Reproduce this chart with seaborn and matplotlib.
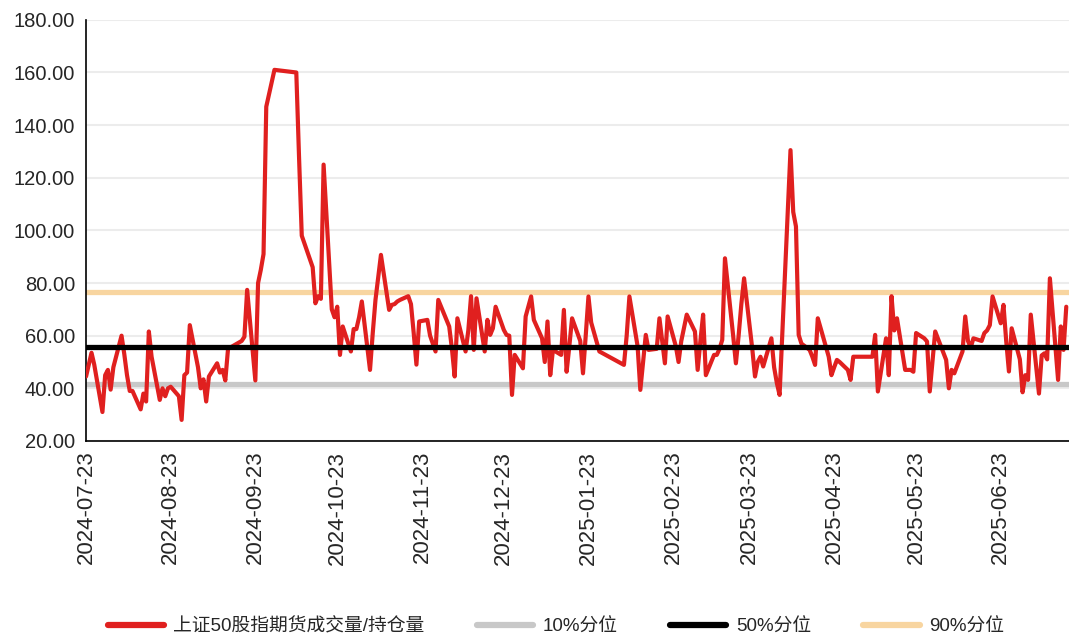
import matplotlib
matplotlib.use("Agg")
import matplotlib.pyplot as plt
from matplotlib.lines import Line2D
import seaborn as sns
import numpy as np
import pandas as pd

# SSE closed days inside the window
holidays = ["2024-09-16", "2024-09-17",
            "2024-10-01", "2024-10-02", "2024-10-03", "2024-10-04", "2024-10-07",
            "2025-01-01", "2025-01-28", "2025-01-29", "2025-01-30", "2025-01-31",
            "2025-02-03", "2025-02-04", "2025-04-04",
            "2025-05-01", "2025-05-02", "2025-05-05", "2025-06-02"]

# volume / open interest ratio, one value per trading day, month by month
vol_2024_07 = [44.5, 49, 53.5, 49, 31, 45, 47]
vol_2024_08 = [39.5, 48, 60, 53, 45, 39, 39, 32, 38, 35, 61.6, 52, 35.6, 40, 37, 40,
               40.6, 37, 28, 45, 46, 64]
vol_2024_09 = [48, 40, 43.4, 35, 44.5, 49.5, 46, 47, 43, 55, 58, 59.6, 77.4, 43, 80,
               85, 91, 147, 161]
vol_2024_10 = [160, 128, 98, 95, 86, 72.3, 75, 74, 125, 70, 67, 71, 52.7, 63.5, 54,
               62.5, 62.5, 67]
vol_2024_11 = [73, 47, 61, 73.6, 82, 90.7, 69.8, 71.7, 72, 73, 73.6, 75, 72, 61, 49,
               65.4, 66, 60, 57, 54, 73.6]
vol_2024_12 = [66, 63.5, 55, 44.5, 66.6, 54, 62, 75, 54.6, 74.2, 54, 66, 60.3, 62.8,
               71, 62.2, 60.3, 60, 37.5, 52.7, 47.6, 67.3]
vol_2025_01 = [74.9, 66, 59, 50, 65.4, 45, 54.6, 52.7, 69.8, 46.3, 56, 66.6, 58, 45.7,
               60, 74.9, 65, 54]
vol_2025_02 = [48.9, 60, 74.9, 56, 39.4, 50, 60.3, 54.6, 55, 66.6, 58, 49.5, 67.3, 56,
               50, 58, 63, 68]
vol_2025_03 = [61.6, 47, 58, 68, 45, 52.7, 52.7, 55, 58.4, 89.4, 60, 49.5, 60, 72, 81.8,
               55, 44.5, 50, 52, 48.3, 59]
vol_2025_04 = [48, 42, 37.5, 130.5, 107, 101.5, 60.3, 57, 54.6, 52, 48.9, 66.6, 63, 52,
               45, 48, 50.8, 50, 47, 43.2, 52]
vol_2025_05 = [52, 52, 60.3, 38.8, 59, 45, 75, 62, 66.6, 47, 47, 47, 46.3, 61, 59, 57.8,
               38.8, 50, 61.6]
vol_2025_06 = [50.8, 40, 47, 45.7, 54, 67.3, 58, 55.5, 59, 58, 61, 62, 64, 74.9, 64.7,
               71.7, 58, 46.4, 62.8, 51]
vol_2025_07 = [38.5, 45, 43.2, 68, 38, 52.5, 53.3, 51, 81.8, 43.2, 63.5, 54.6, 71]

# percentile reference levels
p10 = 41.8
p50 = 55.7
p90 = 76.5

series_label = "上证50股指期货成交量/持仓量"
level_labels = ["10%分位", "50%分位", "90%分位"]
tick_dates = pd.date_range("2024-07-23", periods=12, freq=pd.DateOffset(months=1))

values = (vol_2024_07 + vol_2024_08 + vol_2024_09 + vol_2024_10 + vol_2024_11 +
          vol_2024_12 + vol_2025_01 + vol_2025_02 + vol_2025_03 + vol_2025_04 +
          vol_2025_05 + vol_2025_06 + vol_2025_07)
days = pd.bdate_range("2024-07-23", "2025-07-17")
days = days[~days.isin(pd.to_datetime(holidays))]
assert len(days) == len(values)
df = pd.DataFrame({"date": days, "ratio": values})

sns.set_style("white")
plt.rcParams["font.family"] = ["Liberation Sans", "Noto Sans CJK SC", "DejaVu Sans"]

red = "#e0201f"
grey = "#c8c8c8"
black = "#000000"
peach = "#f8d5a0"

fig = plt.figure(figsize=(10.69, 6.4), dpi=100)
ax = fig.add_axes([0.0805, 0.311, 0.9195, 0.658])

ax.axhline(p10, color=grey, lw=3.8, zorder=2)
ax.axhline(p90, color=peach, lw=3.8, zorder=2)
sns.lineplot(data=df, x="date", y="ratio", ax=ax, color=red, lw=3.0, zorder=3)
ax.axhline(p50, color=black, lw=3.8, zorder=4)

ax.set_ylim(20, 180)
ax.set_yticks(np.arange(20, 181, 20))
ax.set_yticklabels([f"{v:.2f}" for v in np.arange(20, 181, 20)], fontsize=14.5)
ax.set_xlim(pd.Timestamp("2024-07-23"), pd.Timestamp("2025-07-18"))
ax.set_xticks(tick_dates)
ax.set_xticklabels([d.strftime("%Y-%m-%d") for d in tick_dates], rotation=90, fontsize=16)
ax.set_xlabel("")
ax.set_ylabel("")

ax.grid(axis="y", color="#ececec", lw=1.5, zorder=0)
ax.set_axisbelow(True)
for s in ["top", "right"]:
    ax.spines[s].set_visible(False)
for s in ["left", "bottom"]:
    ax.spines[s].set_color("black")
    ax.spines[s].set_linewidth(1.2)
ax.tick_params(axis="x", direction="out", length=6, width=1.2, color="black", pad=1)
ax.tick_params(axis="y", direction="out", length=5, width=1.2, color="black", pad=3)

handles = [Line2D([], [], color=c, lw=4.5, solid_capstyle="round")
           for c in [red, grey, black, peach]]
fig.legend(handles, [series_label] + level_labels, loc="center", ncol=4,
           bbox_to_anchor=(0.52, 0.02), frameon=False, fontsize=13.5,
           handlelength=3.0, handletextpad=0.5, columnspacing=2.8)

fig.savefig("out.png", dpi=100)
